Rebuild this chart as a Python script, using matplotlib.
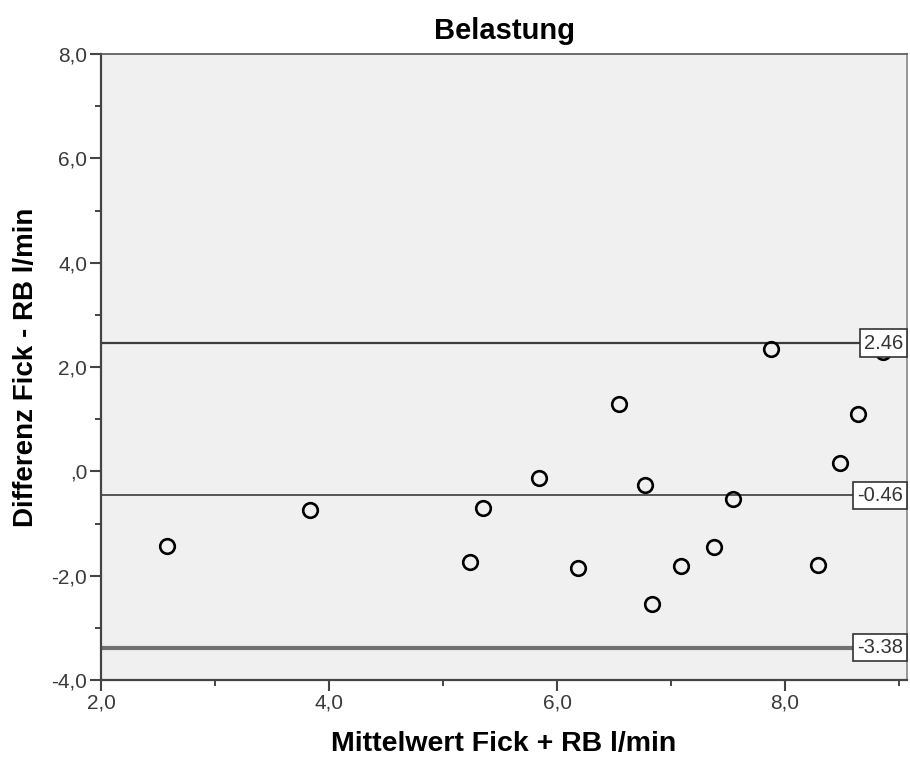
import matplotlib
matplotlib.use("Agg")
import matplotlib.pyplot as plt
from matplotlib.ticker import MultipleLocator, FuncFormatter

# Bland-Altman data: mean of both methods vs. difference (l/min)
mittelwert = [2.58, 3.83, 5.24, 5.35, 5.84, 6.18, 6.54, 6.77, 6.83,
              7.09, 7.38, 7.54, 7.88, 8.29, 8.48, 8.64, 8.86]
differenz = [-1.43, -0.74, -1.74, -0.70, -0.13, -1.85, 1.29, -0.26, -2.54,
             -1.81, -1.45, -0.53, 2.34, -1.80, 0.16, 1.10, 2.29]

mean_diff = -0.46
upper_loa = 2.46
lower_loa = -3.38
ref_lines = [upper_loa, mean_diff, lower_loa]
ref_labels = ["2.46", "-0.46", "-3.38"]

x_limits = (2.0, 9.07)
y_limits = (-4.0, 8.0)

plt.rcParams['font.family'] = ['Liberation Sans', 'DejaVu Sans']

fig = plt.figure(figsize=(9.10, 7.58), dpi=100)
ax = fig.add_axes([101 / 910, 1 - 680 / 758, (907 - 101) / 910, (680 - 54) / 758])
ax.set_facecolor('#f0f0f0')

# reference lines: limits of agreement and mean difference
line_styles = [dict(color='#3c3c3c', lw=1.6),
               dict(color='#555555', lw=1.4),
               dict(color='#707070', lw=3.0)]
for yv, st in zip(ref_lines, line_styles):
    ax.axhline(yv, zorder=2, **st)

ax.plot(mittelwert, differenz, linestyle='none', marker='o', markersize=10.5,
        markerfacecolor='none', markeredgecolor='black', markeredgewidth=1.9,
        zorder=3)

label_pad = 0.2
label_size = 14.5
for yv, lab in zip(ref_lines, ref_labels):
    ax.annotate(lab, xy=(1.0, yv), xycoords=('axes fraction', 'data'),
                xytext=(-label_pad * label_size, 0), textcoords='offset points',
                ha='right', va='center', fontsize=label_size, color='#333333',
                bbox=dict(boxstyle=f'square,pad={label_pad}', fc='white',
                          ec='#333333', lw=1.2),
                zorder=5)

ax.set_xlim(*x_limits)
ax.set_ylim(*y_limits)
ax.xaxis.set_major_locator(MultipleLocator(2.0))
ax.xaxis.set_minor_locator(MultipleLocator(1.0))
ax.yaxis.set_major_locator(MultipleLocator(2.0))
ax.yaxis.set_minor_locator(MultipleLocator(1.0))


def comma_fmt(v, pos):
    s = f"{v:.1f}".replace('.', ',')
    if s in ("0,0", "-0,0"):
        s = ",0"
    return s


ax.xaxis.set_major_formatter(FuncFormatter(comma_fmt))
ax.yaxis.set_major_formatter(FuncFormatter(comma_fmt))

ax.tick_params(which='major', direction='out', length=8, width=1.5, color='#444444',
               labelsize=15, labelcolor='#3a3a3a', pad=2)
ax.tick_params(which='minor', direction='out', length=4, width=1.4, color='#444444')

for side in ['left', 'bottom']:
    ax.spines[side].set_color('#444444')
    ax.spines[side].set_linewidth(1.6)
ax.spines['top'].set_color('#555555')
ax.spines['top'].set_linewidth(1.2)
ax.spines['right'].set_color('#888888')
ax.spines['right'].set_linewidth(1.2)

ax.set_title('Belastung', fontsize=21, fontweight='bold', pad=11)
ax.set_xlabel('Mittelwert Fick + RB l/min', fontsize=20.5, fontweight='bold', labelpad=13)
ax.set_ylabel('Differenz Fick - RB l/min', fontsize=20, fontweight='bold', labelpad=9)

fig.savefig('out.png', dpi=100, facecolor='white')
